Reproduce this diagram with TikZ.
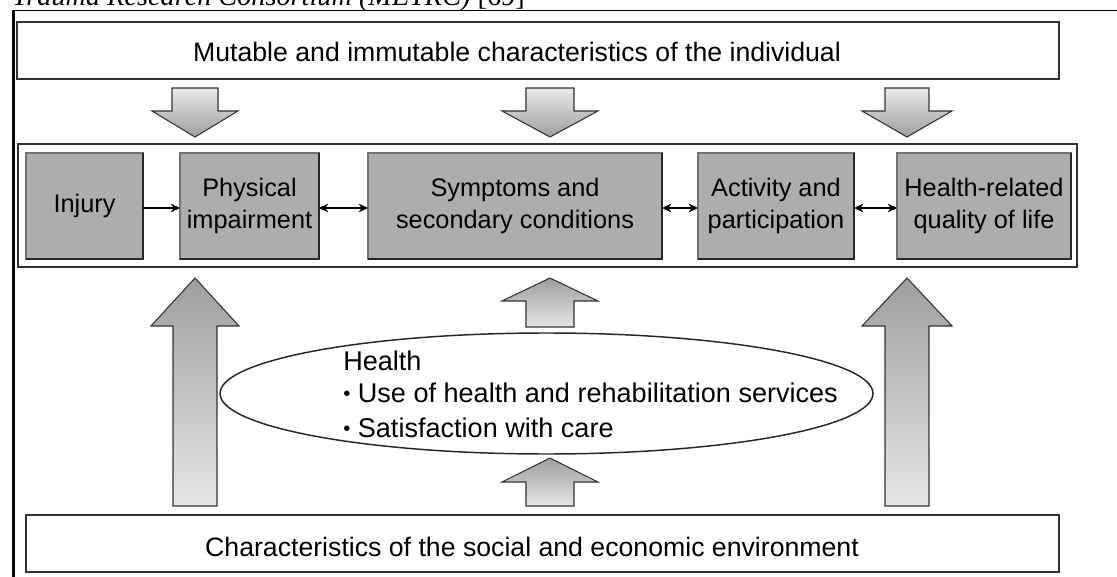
\documentclass[tikz,border=0pt]{standalone}
\usepackage{fontspec}
\setmainfont{Liberation Sans}
\newfontfamily\capfont{Liberation Serif}
\usetikzlibrary{arrows.meta,shapes.geometric}
\newcommand{\smallbul}{\raisebox{0.05em}{\scalebox{0.75}{\textbullet}}}
\begin{document}
\begin{tikzpicture}[x=0.75pt,y=-0.75pt,
  >={Stealth[length=7pt,width=6.5pt]},
  bigbox/.style={draw=black!80, line width=1.1pt, fill=white, inner sep=0pt, outer sep=0pt},
  gbox/.style={draw=black!55, line width=1pt, fill=black!32, inner sep=0pt, outer sep=0pt,
    align=center, minimum height=106*0.75pt, font=\fontsize{19}{24.5}\selectfont},
  bigtext/.style={inner sep=0pt, anchor=base, font=\fontsize{20}{24}\selectfont},
  elltext/.style={inner sep=0pt, anchor=base west, font=\fontsize{20.3}{24}\selectfont},
  conn/.style={line width=1.1pt, black},
  shadowedge/.style={black!85, line width=1.3pt},
  downarrow/.style={draw=black!80, line width=0.8pt, top color=black!8, bottom color=black!38},
  uparrow/.style={draw=black!80, line width=0.8pt, top color=black!38, bottom color=black!10},
  frame/.style={black, line width=2.2pt}
]
\useasboundingbox (0,0) rectangle (1117,577);
\clip (0,0) rectangle (1117,577);

% cut-off caption
\node[inner sep=0pt, anchor=base west, font=\capfont\fontsize{21.2}{24}\selectfont] (caption) at (12,5.5)
  {\itshape Trauma Research Consortium (METRC)\upshape{} [69]};

% outer frame (top and left sides)
\coordinate (fTL) at (13.5,10.5);
\coordinate (fTR) at (1117,10.5);
\coordinate (fBL) at (13.5,577);
\draw[line width=1.4pt] (fTL) -- (fTR);
\draw[frame] (fTL) -- (fBL);

% top and bottom boxes
\node[bigbox, minimum width=1042*0.75pt, minimum height=57*0.75pt] (topbox) at (538,50.5) {};
\node[bigtext] (toptext) at (517,62) {Mutable and immutable characteristics of the individual};

\node[bigbox, minimum width=1033*0.75pt, minimum height=57*0.75pt] (botbox) at (542.5,543.5) {};
\node[bigtext] (bottext) at (532,556) {Characteristics of the social and economic environment};

% main box
\node[bigbox, line width=1.4pt, fill=none, minimum width=1059*0.75pt, minimum height=123*0.75pt] (mainbox) at (547.5,205.5) {};

% grey boxes
\node[gbox, minimum width=117*0.75pt] (inj) at (84.5,206) {Injury};
\node[gbox, minimum width=139*0.75pt] (phys) at (249.5,206) {Physical\\impairment};
\node[gbox, minimum width=294*0.75pt] (symp) at (515,206) {Symptoms and\\secondary conditions};
\node[gbox, minimum width=156*0.75pt] (act) at (776,206) {Activity and\\participation};
\node[gbox, minimum width=174*0.75pt] (hrq) at (984,206) {Health-related\\quality of life};
\foreach \b in {inj,phys,symp,act,hrq}{
  \draw[shadowedge] (\b.north east) -- (\b.south east) -- (\b.south west);
}

% connectors
\draw[conn, ->] ([yshift=-1.5pt]inj.east) -- ([yshift=-1.5pt]phys.west);
\draw[conn, <->] ([yshift=-1.5pt]phys.east) -- ([yshift=-1.5pt]symp.west);
\draw[conn, <->] ([yshift=-1.5pt]symp.east) -- ([yshift=-1.5pt]act.west);
\draw[conn, <->] ([yshift=-1.5pt]act.east) -- ([yshift=-1.5pt]hrq.west);

% down block arrows
\foreach \cx/\hs/\hh in {195/23/43, 550/24/48, 907/22/45}{
  \path[downarrow] ({\cx-\hs},88) -- ({\cx+\hs},88) -- ({\cx+\hs},111) -- ({\cx+\hh},111)
    -- (\cx,137) -- ({\cx-\hh},111) -- ({\cx-\hs},111) -- cycle;
}

% up block arrows
\foreach \cx/\ty/\by/\ey/\hs/\hh in {195/278/326/506/22/44, 907/278/326/506/22/45,
   550/278/301/327/24/48, 550/458/482/506/24/48}{
  \path[uparrow] (\cx,\ty) -- ({\cx+\hh},\by) -- ({\cx+\hs},\by) -- ({\cx+\hs},\ey)
    -- ({\cx-\hs},\ey) -- ({\cx-\hs},\by) -- ({\cx-\hh},\by) -- cycle;
}

% ellipse
\node[draw=black!85, line width=1.1pt, ellipse, fill=white, inner sep=0pt,
  minimum width=653*0.75pt, minimum height=121*0.75pt] (health) at (546.5,393.5) {};
\node[elltext] (h1) at (343,370) {Health};
\node[elltext] (h2) at (343,402) {\smallbul\ Use of health and rehabilitation services};
\node[elltext] (h3) at (343,437) {\smallbul\ Satisfaction with care};
\end{tikzpicture}
\end{document}
